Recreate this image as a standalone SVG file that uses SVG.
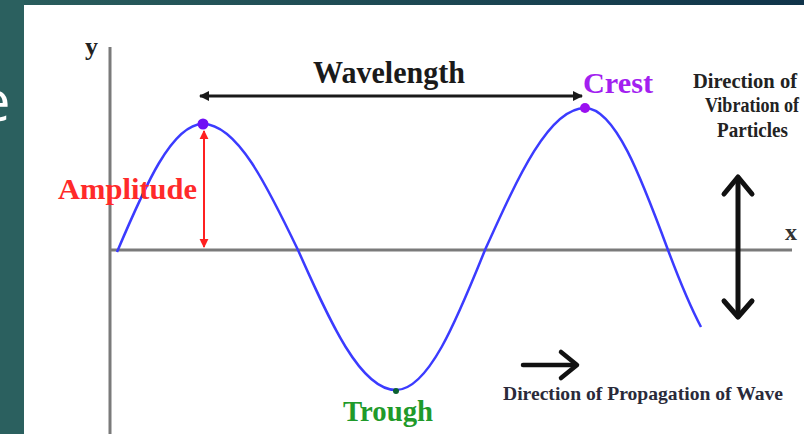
<svg xmlns="http://www.w3.org/2000/svg" width="804" height="434" viewBox="0 0 804 434">
<defs>
<linearGradient id="topbar" x1="0" y1="0" x2="1" y2="0">
<stop offset="0" stop-color="#2a5e5d"/><stop offset="1" stop-color="#10344a"/>
</linearGradient>
<marker id="ahBlack" viewBox="0 0 10 10" refX="9" refY="5" markerWidth="3.4" markerHeight="3.4" orient="auto-start-reverse" markerUnits="strokeWidth">
<path d="M0,0 L10,5 L0,10 z" fill="#1a1a1a"/>
</marker>
<marker id="ahRed" viewBox="0 0 10 10" refX="9" refY="5" markerWidth="4.5" markerHeight="5" orient="auto-start-reverse" markerUnits="strokeWidth">
<path d="M0,0 L10,5 L0,10 z" fill="#ff2020"/>
</marker>
<style>
.axis{stroke:#7a7a7a;stroke-width:3;fill:none}
.wave{fill:none;stroke:#3b3bff;stroke-width:2.5}
.lbl{font-family:"Liberation Serif","Times New Roman",serif;font-weight:bold}
.thick{stroke:#111;fill:none;stroke-linecap:round;stroke-linejoin:round}
</style>
</defs>

<g id="background">
<rect x="0" y="0" width="804" height="434" fill="#ffffff"/>
<rect x="0" y="0" width="804" height="5" fill="url(#topbar)"/>
<rect x="0" y="0" width="24" height="434" fill="#2b605f"/>
<text x="-21" y="121" font-family="'Open Sans','DejaVu Sans',sans-serif" font-size="56" fill="#ffffff">e</text>
</g>

<g id="axes">
<line class="axis" x1="110" y1="47" x2="110" y2="434"/>
<line class="axis" x1="110" y1="250" x2="792" y2="250"/>
<text class="lbl" x="85" y="55" font-size="26" fill="#222">y</text>
<text class="lbl" x="785" y="240" font-size="24" fill="#333">x</text>
</g>

<g id="wave">
<path class="wave" d="M117,252 C145,186 172,124 203,124 C237,124 267,185.5 298,250 C330,322 360.5,390 396,390 C428,390 456,322 485,250 C518,177 549,108 585,108 C615,108 641,177 668,250 C680,282 690,306 701,327"/>
</g>

<g id="connectors">
<line x1="200" y1="96" x2="582" y2="96" stroke="#1a1a1a" stroke-width="3" marker-start="url(#ahBlack)" marker-end="url(#ahBlack)"/>
<line x1="204" y1="131" x2="204" y2="247" stroke="#ff2020" stroke-width="2" marker-start="url(#ahRed)" marker-end="url(#ahRed)"/>
<g id="propagation-arrow">
<path class="thick" stroke-width="4.5" d="M523,365 H575"/>
<path class="thick" stroke-width="4.5" d="M561,352 L577,365 L561,378"/>
</g>
<g id="vibration-arrow">
<path class="thick" stroke-width="5" d="M738,178 V316"/>
<path class="thick" stroke-width="5" d="M724,194 L738,177 L752,194"/>
<path class="thick" stroke-width="5" d="M724,301 L738,317 L752,301"/>
</g>
</g>

<g id="crest">
<circle cx="585" cy="108" r="5" fill="#9a10f0"/>
<circle cx="203" cy="124" r="5.5" fill="#6f10f5"/>
<text class="lbl" x="583" y="93" font-size="30" fill="#a31ff0" textLength="70" lengthAdjust="spacingAndGlyphs">Crest</text>
</g>

<g id="trough">
<circle cx="396" cy="391" r="3" fill="#0b6030"/>
<text class="lbl" x="343" y="421" font-size="30" fill="#1f9a2a" textLength="90" lengthAdjust="spacingAndGlyphs">Trough</text>
</g>

<g id="wavelength">
<text class="lbl" x="313" y="83" font-size="31" fill="#1a1a1a" textLength="152" lengthAdjust="spacingAndGlyphs">Wavelength</text>
</g>

<g id="amplitude">
<text class="lbl" x="58" y="199" font-size="30" fill="#ff2a2a" textLength="139" lengthAdjust="spacingAndGlyphs">Amplitude</text>
</g>

<g id="vibration-label">
<text class="lbl" x="693" y="88" font-size="22" fill="#222" textLength="104" lengthAdjust="spacingAndGlyphs">Direction of</text>
<text class="lbl" transform="translate(705,112) scale(0.82,1)" x="0" y="0" font-size="22" fill="#222">Vibration of</text>
<text class="lbl" x="717" y="137" font-size="22" fill="#222" textLength="71" lengthAdjust="spacingAndGlyphs">Particles</text>
</g>

<g id="propagation-label">
<text class="lbl" x="503" y="400" font-size="19.5" fill="#2a2a3a" textLength="280" lengthAdjust="spacingAndGlyphs">Direction of Propagation of Wave</text>
</g>
</svg>
